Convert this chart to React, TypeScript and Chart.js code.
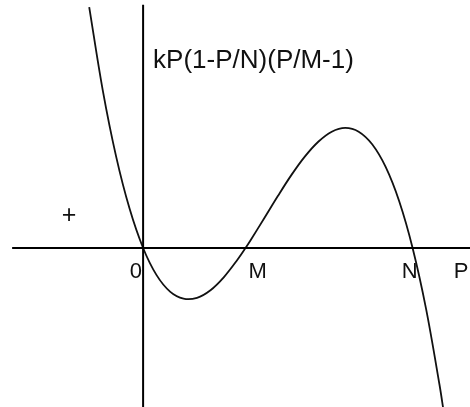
import { useEffect, useRef } from "react";
import { Chart, registerables } from "chart.js";

Chart.register(...registerables);

// Growth curve kP(1-P/N)(P/M-1): population P against growth rate
const populationP = [
  -2, -1.5, -1, -0.5, 0, 0.5, 1, 1.5, 2, 2.5, 3, 3.5, 3.8, 4, 4.5, 5, 5.5, 6,
  6.5, 7, 7.5, 8, 8.5, 9, 9.5, 10, 10.5, 11, 11.15,
];
const growthRate = [
  13.92, 9.14, 5.28, 2.26, 0, -1.57, -2.52, -2.93, -2.88, -2.44, -1.68, -0.68,
  0, 0.48, 1.73, 3.0, 4.21, 5.28, 6.14, 6.72, 6.94, 6.72, 5.99, 4.68, 2.71, 0,
  -3.52, -7.92, -9.42,
];

// Roots of the curve, named on the horizontal axis
const rootValues = [0, 3.8, 10];
const rootLabels = ["0", "M", "N"];

// Visible window and axis extents
const xRange = [-5.31, 12.13];
const yRange = [-9.19, 14.33];
const horizontalAxisSpan = [-4.86, 12.13];
const verticalAxisSpan = [-9.19, 14.05];

const curveTitle = "kP(1-P/N)(P/M-1)";
const axisName = "P";
const axisNameAt = 11.8;
const signMark = "+";
const signMarkAt = [-2.75, 1.85];

const FONT = "'Liberation Sans', Arial, Helvetica, sans-serif";

const annotations = {
  id: "annotations",
  afterDatasetsDraw(chart: Chart) {
    const { ctx } = chart;
    const xs = chart.scales.x;
    const ys = chart.scales.y;
    const x0 = xs.getPixelForValue(0);
    const y0 = ys.getPixelForValue(0);
    ctx.save();
    ctx.fillStyle = "#111";
    ctx.textBaseline = "alphabetic";

    // Curve formula next to the vertical axis
    ctx.font = `26px ${FONT}`;
    ctx.textAlign = "left";
    ctx.fillText(curveTitle, x0 + 10, 68);

    // Root labels under the horizontal axis
    ctx.font = `22px ${FONT}`;
    const labelBase = y0 + 30;
    rootLabels.forEach((lab, i) => {
      const px = xs.getPixelForValue(rootValues[i]);
      if (i === 0) {
        ctx.textAlign = "right";
        ctx.fillText(lab, px - 1, labelBase);
      } else if (i === 1) {
        ctx.textAlign = "left";
        ctx.fillText(lab, px + 3, labelBase);
      } else {
        ctx.textAlign = "center";
        ctx.fillText(lab, px - 3, labelBase);
      }
    });
    ctx.textAlign = "center";
    ctx.fillText(axisName, xs.getPixelForValue(axisNameAt), labelBase);

    // Sign of the growth rate left of the origin
    ctx.font = `25px ${FONT}`;
    ctx.textBaseline = "middle";
    ctx.fillText(
      signMark,
      xs.getPixelForValue(signMarkAt[0]),
      ys.getPixelForValue(signMarkAt[1])
    );
    ctx.restore();
  },
};

export default function App() {
  const canvasRef = useRef<HTMLCanvasElement | null>(null);

  useEffect(() => {
    const canvas = canvasRef.current;
    if (!canvas) return;
    const chart = new Chart(canvas, {
      type: "scatter",
      data: {
        datasets: [
          {
            label: "P axis",
            data: horizontalAxisSpan.map((x) => ({ x, y: 0 })),
            showLine: true,
            borderColor: "#000",
            borderWidth: 2,
            pointRadius: 0,
          },
          {
            label: "rate axis",
            data: verticalAxisSpan.map((y) => ({ x: 0, y })),
            showLine: true,
            borderColor: "#000",
            borderWidth: 2,
            pointRadius: 0,
          },
          {
            label: curveTitle,
            data: populationP.map((x, i) => ({ x, y: growthRate[i] })),
            showLine: true,
            borderColor: "#111",
            borderWidth: 1.8,
            pointRadius: 0,
            tension: 0.35,
          },
        ],
      },
      options: {
        animation: false,
        responsive: false,
        devicePixelRatio: 1,
        layout: { padding: 0 },
        plugins: {
          legend: { display: false },
          tooltip: { enabled: false },
        },
        scales: {
          x: { type: "linear", display: false, min: xRange[0], max: xRange[1] },
          y: { type: "linear", display: false, min: yRange[0], max: yRange[1] },
        },
      },
      plugins: [annotations],
    });
    return () => chart.destroy();
  }, []);

  return (
    <div
      style={{
        position: "fixed",
        left: 0,
        top: 0,
        width: 470,
        height: 407,
        background: "#fff",
      }}
    >
      <canvas ref={canvasRef} width={470} height={407} />
    </div>
  );
}
